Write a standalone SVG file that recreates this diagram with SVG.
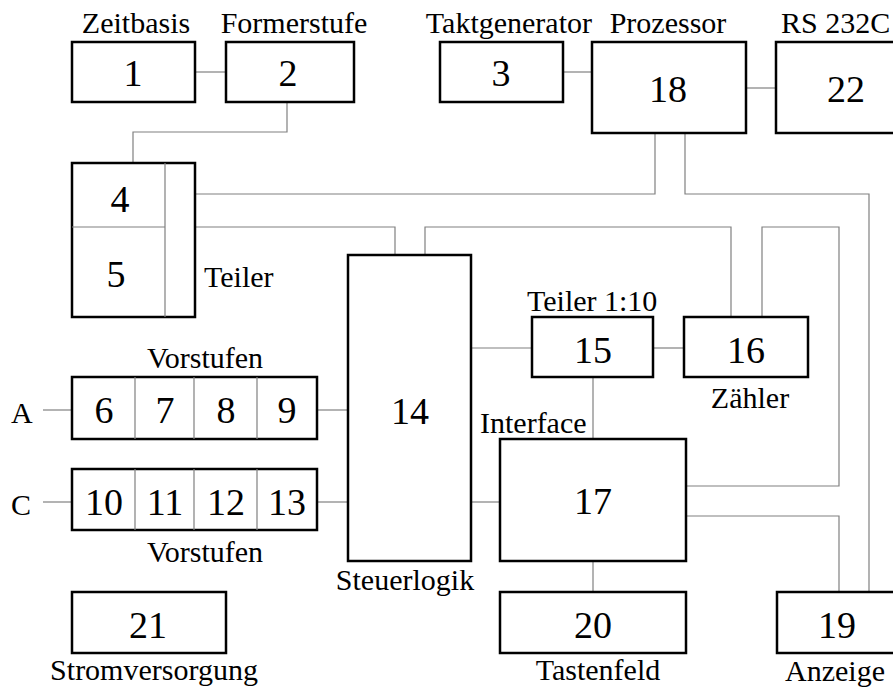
<svg xmlns="http://www.w3.org/2000/svg" width="893" height="691" viewBox="0 0 893 691" font-family="'Liberation Serif', 'Times New Roman', 'DejaVu Serif', serif">
<style>
.box{fill:#fff;stroke:#000;stroke-width:2.5}
.div{stroke:#808080;stroke-width:1.2;fill:none}
.con{stroke:#808080;stroke-width:1.2;fill:none}
text{font-family:'Liberation Serif','Times New Roman','DejaVu Serif',serif;fill:#000}
.num{font-size:38px;text-anchor:middle}
.lbl{font-size:30px}
.mid{text-anchor:middle}
.end{text-anchor:end}
</style>
<rect width="893" height="691" fill="#fff"/>
<g id="connectors">
<path class="con" d="M195 72H226"/>
<path class="con" d="M287 102V132H133V163"/>
<path class="con" d="M563 72H592"/>
<path class="con" d="M746 88H776"/>
<path class="con" d="M655 133V194H195"/>
<path class="con" d="M685 133V194H869V592"/>
<path class="con" d="M195 227H395V255"/>
<path class="con" d="M425 255V227H731V317"/>
<path class="con" d="M762 317V227H839V486H686"/>
<path class="con" d="M686 516H839V592"/>
<path class="con" d="M43 410H72"/>
<path class="con" d="M317 410H348"/>
<path class="con" d="M43 502H72"/>
<path class="con" d="M317 502H348"/>
<path class="con" d="M471 348H532"/>
<path class="con" d="M653 348H684"/>
<path class="con" d="M593 377V439"/>
<path class="con" d="M471 502H500"/>
<path class="con" d="M593 561V592"/>
</g>
<g id="n1"><rect class="box" x="72" y="42" width="123" height="60"/><text class="num" x="133" y="86">1</text><text class="lbl mid" x="136" y="33">Zeitbasis</text></g>
<g id="n2"><rect class="box" x="226" y="42" width="128" height="60"/><text class="num" x="288" y="86">2</text><text class="lbl mid" x="294" y="33">Formerstufe</text></g>
<g id="n3"><rect class="box" x="440" y="42" width="123" height="60"/><text class="num" x="501" y="86">3</text><text class="lbl end" x="592" y="33">Taktgenerator</text></g>
<g id="n18"><rect class="box" x="592" y="42" width="154" height="91"/><text class="num" x="668" y="102">18</text><text class="lbl mid" x="668" y="33">Prozessor</text></g>
<g id="n22"><rect class="box" x="776" y="42" width="130" height="91"/><text class="num" x="846" y="102">22</text><text class="lbl" x="781" y="33">RS 232C</text></g>
<g id="n4-5"><rect class="box" x="72" y="163" width="123" height="154"/><path class="div" d="M165 163V317M72 227H165"/><text class="num" x="120" y="212">4</text><text class="num" x="116" y="287">5</text><text class="lbl" x="204" y="287">Teiler</text></g>
<g id="n6-9"><rect class="box" x="72" y="377" width="245" height="62"/><path class="div" d="M135 377V439M194 377V439M257 377V439"/><text class="num" x="104" y="423">6</text><text class="num" x="165" y="423">7</text><text class="num" x="226" y="423">8</text><text class="num" x="287" y="423">9</text><text class="lbl mid" x="205" y="368">Vorstufen</text><text class="lbl" x="11" y="423">A</text></g>
<g id="n10-13"><rect class="box" x="72" y="469" width="245" height="61"/><path class="div" d="M135 469V530M194 469V530M257 469V530"/><text class="num" x="104" y="515">10</text><text class="num" x="165" y="515">11</text><text class="num" x="226" y="515">12</text><text class="num" x="287" y="515">13</text><text class="lbl mid" x="205" y="562">Vorstufen</text><text class="lbl" x="11" y="515">C</text></g>
<g id="n14"><rect class="box" x="348" y="255" width="123" height="306"/><text class="num" x="410" y="424">14</text><text class="lbl mid" x="405" y="590">Steuerlogik</text></g>
<g id="n15"><rect class="box" x="532" y="317" width="121" height="60"/><text class="num" x="593" y="363">15</text><text class="lbl" x="527" y="311">Teiler 1:10</text></g>
<g id="n16"><rect class="box" x="684" y="317" width="124" height="60"/><text class="num" x="746" y="363">16</text><text class="lbl mid" x="750" y="408">Zähler</text></g>
<g id="n17"><rect class="box" x="500" y="439" width="186" height="122"/><text class="num" x="593" y="514">17</text><text class="lbl" x="480" y="433">Interface</text></g>
<g id="n21"><rect class="box" x="72" y="592" width="154" height="61"/><text class="num" x="148" y="638">21</text><text class="lbl mid" x="154" y="680">Stromversorgung</text></g>
<g id="n20"><rect class="box" x="500" y="592" width="186" height="61"/><text class="num" x="593" y="638">20</text><text class="lbl mid" x="598" y="680">Tastenfeld</text></g>
<g id="n19"><rect class="box" x="777" y="592" width="130" height="61"/><text class="num" x="837" y="638">19</text><text class="lbl" x="785" y="681">Anzeige</text></g>
</svg>
